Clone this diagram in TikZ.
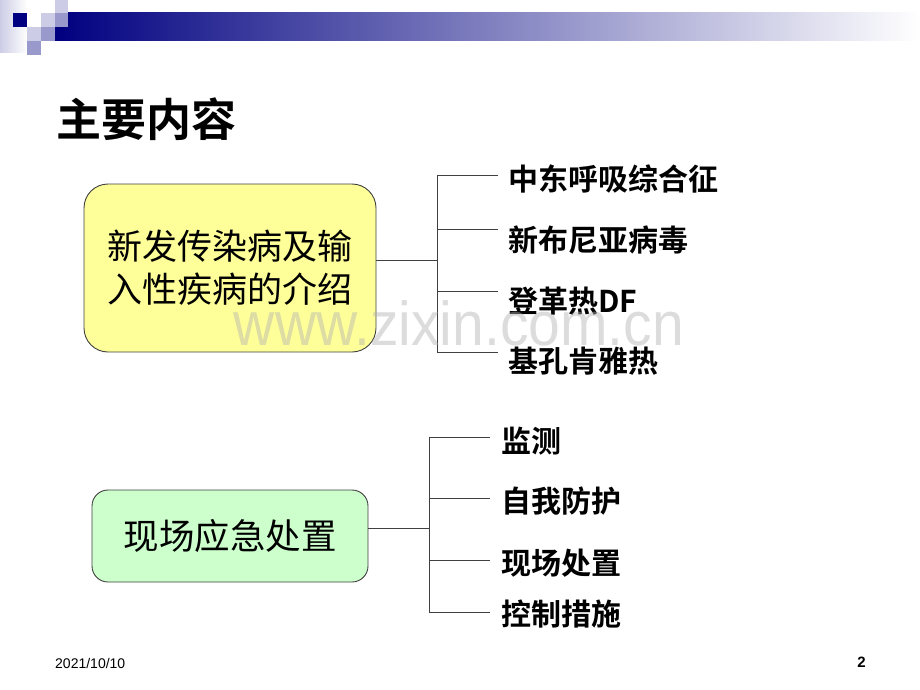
\documentclass[tikz,border=0pt]{standalone}
\usepackage{fontspec}
\setmainfont{Liberation Sans}
\newfontfamily\cjk{Noto Sans CJK SC}
\newfontfamily\cjkb{Noto Sans CJK SC Bold}
\newfontfamily\arialf{Liberation Sans}
\definecolor{navy}{HTML}{000080}
\definecolor{lav}{HTML}{CCCCE6}
\definecolor{midlav}{HTML}{9999CC}
\definecolor{barmid}{HTML}{9A9AB6}
\definecolor{boxyellow}{HTML}{FFFF99}
\definecolor{boxgreen}{HTML}{CCFFCC}
\tikzset{
  mainbox/.style={draw=black!75, line width=0.9pt, rounded corners=24pt, align=center, inner sep=0pt},
  branch/.style={draw=black!75, line width=1pt},
  lab/.style={anchor=west, inner sep=0pt, font=\cjkb\fontsize{30}{34}\selectfont},
}
\begin{document}
\begin{tikzpicture}[x=1pt,y=-1pt]
\useasboundingbox (0,0) rectangle (920,690);
% header decoration
\shade[left color=lav, right color=white] (0,0) rectangle (27,53);
\shade[left color=navy, middle color=barmid, right color=white] (55,13) rectangle (920,41);
\fill[navy] (13,13) rectangle (27,27);
\fill[lav] (55,0) rectangle (68,13);
\fill[lav] (41,13) rectangle (55,27);
\fill[midlav] (55,13) rectangle (68,27);
\fill[lav] (27,27) rectangle (41,41);
\fill[midlav] (41,27) rectangle (55,41);
\fill[midlav] (27,41) rectangle (41,55);
% title
\node[anchor=west, inner sep=0pt, font=\cjkb\fontsize{45}{50}\selectfont] (title) at (56,119) {主要内容};
% first box
\node[mainbox, fill=boxyellow, minimum width=292pt, minimum height=168pt, font=\cjk\fontsize{35}{43}\selectfont] (b1) at (230,268) {新发传染病及输\\入性疾病的介绍};
\coordinate (j1) at (437,260);
\coordinate (t1a) at (437,175);
\coordinate (t1b) at (437,229);
\coordinate (t1c) at (437,291);
\coordinate (t1d) at (437,352);
\coordinate (e1a) at (498,175);
\coordinate (e1b) at (498,229);
\coordinate (e1c) at (498,291);
\coordinate (e1d) at (498,352);
\draw[branch] (b1.east |- j1) -- (j1);
\draw[branch] (e1a) -- (t1a) -- (t1d) -- (e1d);
\draw[branch] (t1b) -- (e1b);
\draw[branch] (t1c) -- (e1c);
\node[lab] (l1a) at (508,179) {中东呼吸综合征};
\node[lab] (l1b) at (508,240) {新布尼亚病毒};
\node[lab] (l1c) at (508,301) {登革热DF};
\node[lab] (l1d) at (508,361) {基孔肯雅热};
% second box
\node[mainbox, fill=boxgreen, rounded corners=16pt, minimum width=276pt, minimum height=92pt, font=\cjk\fontsize{35.5}{40}\selectfont] (b2) at (230,536) {现场应急处置};
\coordinate (j2) at (429,528);
\coordinate (t2a) at (429,437);
\coordinate (t2b) at (429,498);
\coordinate (t2c) at (429,560);
\coordinate (t2d) at (429,612);
\coordinate (e2a) at (490,437);
\coordinate (e2b) at (490,498);
\coordinate (e2c) at (490,560);
\coordinate (e2d) at (490,612);
\draw[branch] (b2.east |- j2) -- (j2);
\draw[branch] (e2a) -- (t2a) -- (t2d) -- (e2d);
\draw[branch] (t2b) -- (e2b);
\draw[branch] (t2c) -- (e2c);
\node[lab] (l2a) at (501,441) {监测};
\node[lab] (l2b) at (501,501) {自我防护};
\node[lab] (l2c) at (501,563) {现场处置};
\node[lab] (l2d) at (501,614) {控制措施};
% watermark
\node[anchor=base, inner sep=0pt, text=black!30, opacity=0.45, xscale=0.92, font=\arialf\fontsize{62}{62}\selectfont] (wm) at (459,345) {www.zixin.com.cn};
% footer
\node[anchor=west, inner sep=0pt, font=\arialf\fontsize{14}{16}\selectfont] (date) at (55,663) {2021/10/10};
\node[anchor=east, inner sep=0pt, font=\arialf\bfseries\fontsize{15}{17}\selectfont] (page) at (866,662) {2};
\end{tikzpicture}
\end{document}
